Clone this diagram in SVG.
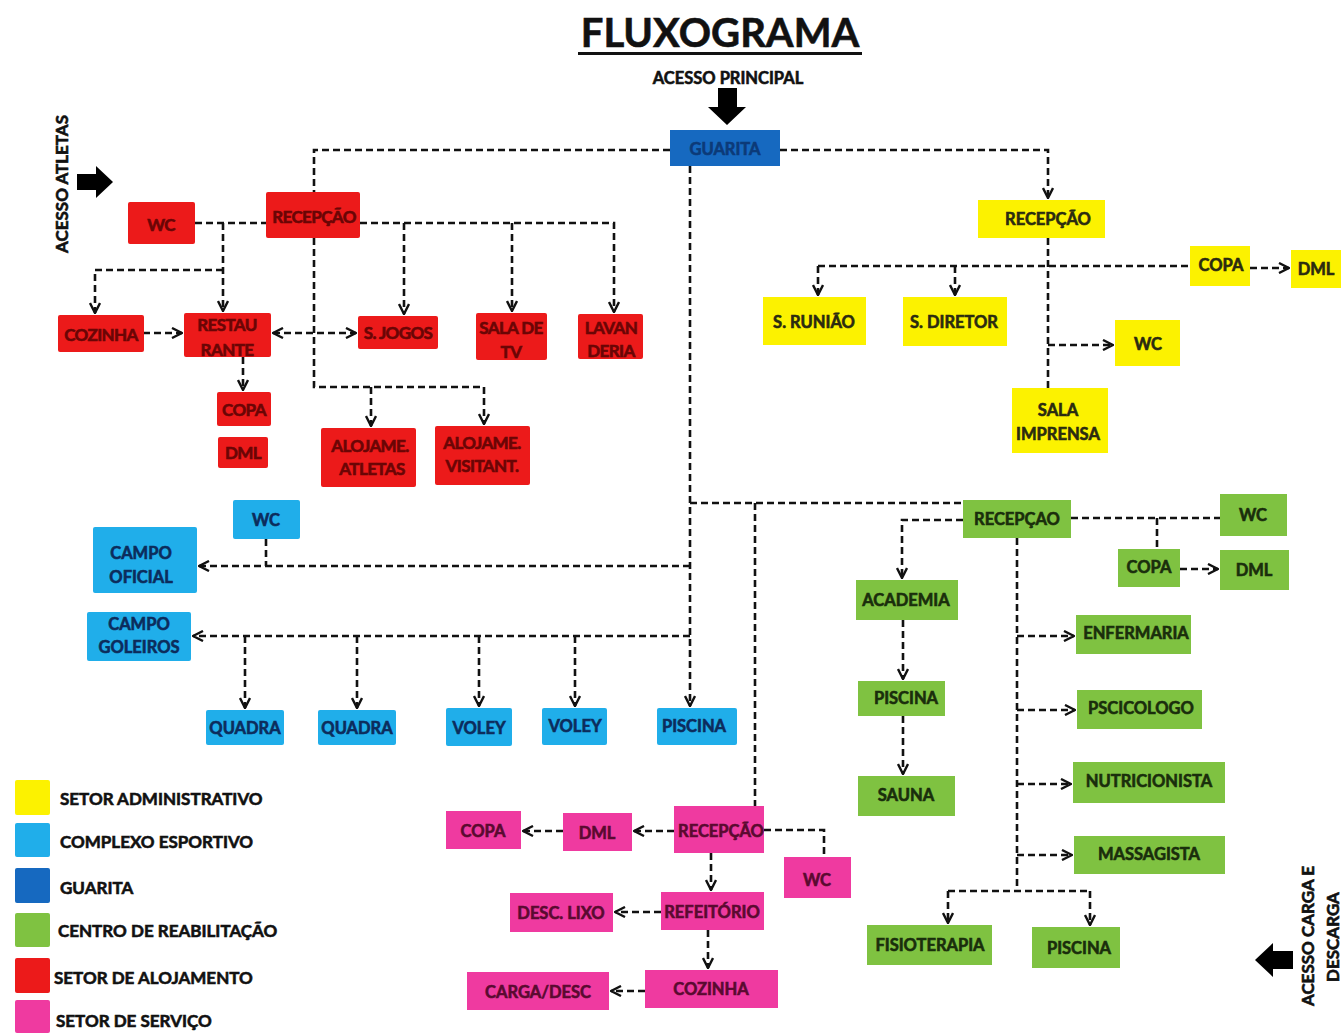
<svg xmlns="http://www.w3.org/2000/svg" width="1341" height="1033" viewBox="0 0 1341 1033">
<style>
text{font-family:Lato,"Open Sans","Liberation Sans",sans-serif;font-weight:bold;text-anchor:middle;dominant-baseline:central;stroke-width:0.6px}
.n{font-size:16.5px}
.red rect{fill:#ec1a1a}.red text{fill:#6a0505;stroke:#6a0505;font-size:17px;letter-spacing:-0.6px}
.yel rect{fill:#fcf200}.yel text{fill:#2b2b10;stroke:#2b2b10}
.sky rect{fill:#20aeea}.sky text{fill:#0c2c5c;stroke:#0c2c5c}
.blu rect{fill:#1669c0}.blu text{fill:#0c3a78;stroke:#0c3a78}
.grn rect{fill:#7fc241}.grn text{fill:#1a2e0c;stroke:#1a2e0c}
.pnk rect{fill:#ef3aa0}.pnk text{fill:#5a0a30;stroke:#5a0a30}
.k{fill:#111;stroke:#111}
.c path{fill:none;stroke:#111;stroke-width:2.6;stroke-dasharray:7 4}
.a{marker-end:url(#ah)}
.leg text{text-anchor:start;font-size:17px}
</style>
<defs>
<marker id="ah" viewBox="0 0 12 12" refX="11" refY="6" markerWidth="12" markerHeight="12" markerUnits="userSpaceOnUse" orient="auto-start-reverse">
<path d="M1,1 L11,6 L1,11" fill="none" stroke="#111" stroke-width="2.4"/>
</marker>
</defs>
<rect width="1341" height="1033" fill="#fff"/>

<g id="title">
<text class="k" x="720" y="32" style="font-size:40px">FLUXOGRAMA</text>
<rect x="578" y="52" width="284" height="3" fill="#111"/>
<text class="k" x="728" y="78" style="font-size:16.5px">ACESSO PRINCIPAL</text>
<polygon points="718,88 737,88 737,107 746,107 727,125 708,107 718,107" fill="#000"/>
</g>

<g id="acesso-atletas">
<text class="k" transform="translate(61,184) rotate(-90)" style="font-size:17px">ACESSO ATLETAS</text>
<polygon points="77,174 96,174 96,166 113,182 96,198 96,190 77,190" fill="#000"/>
</g>

<g id="acesso-carga">
<text class="k" transform="translate(1307,936) rotate(-90)" style="font-size:17px">ACESSO CARGA E</text>
<text class="k" transform="translate(1332,937) rotate(-90)" style="font-size:17px">DESCARGA</text>
<polygon points="1293,951 1273,951 1273,943 1255,960 1273,977 1273,969 1293,969" fill="#000"/>
</g>

<g class="c" id="connectors">
<path d="M670,150 H314 V192"/>
<path class="a" d="M780,150 H1048 V198"/>
<path class="a" d="M690,166 V706"/>
<path d="M690,503 H963"/>
<path d="M755,503 V806"/>
<path class="a" d="M690,566 H199"/>
<path d="M266,539 V566"/>
<path class="a" d="M690,636 H193"/>
<path class="a" d="M245,636 V708"/>
<path class="a" d="M357,636 V708"/>
<path class="a" d="M479,636 V706"/>
<path class="a" d="M575,636 V706"/>

<path d="M195,223 H266"/>
<path class="a" d="M223,223 V311"/>
<path class="a" d="M223,270 H95 V313"/>
<path class="a" d="M143,333 H182"/>
<path class="a" d="M273,333 H356" style="marker-start:url(#ah)"/>
<path class="a" d="M314,238 V387 H484 V424"/>
<path class="a" d="M371,387 V426"/>
<path class="a" d="M360,223 H614 V312"/>
<path class="a" d="M404,223 V314"/>
<path class="a" d="M512,223 V311"/>
<path class="a" d="M243,357 V390"/>

<path d="M1048,238 V388"/>
<path d="M818,266 H1190"/>
<path class="a" d="M818,266 V295"/>
<path class="a" d="M955,266 V295"/>
<path class="a" d="M1250,268 H1289"/>
<path class="a" d="M1048,345 H1113"/>

<path class="a" d="M963,520 H902 V578"/>
<path class="a" d="M903,620 V679"/>
<path class="a" d="M903,716 V774"/>
<path d="M1071,518 H1220"/>
<path d="M1157,518 V549"/>
<path class="a" d="M1180,569 H1218"/>
<path d="M1017,538 V891"/>
<path class="a" d="M1017,636 H1074"/>
<path class="a" d="M1017,710 H1075"/>
<path class="a" d="M1017,784 H1071"/>
<path class="a" d="M1017,855 H1072"/>
<path d="M948,891 H1090"/>
<path class="a" d="M948,891 V923"/>
<path class="a" d="M1090,891 V925"/>

<path class="a" d="M674,831 H634"/>
<path class="a" d="M563,831 H523"/>
<path d="M764,830 H824 V857"/>
<path class="a" d="M711,853 V890"/>
<path class="a" d="M661,912 H615"/>
<path class="a" d="M708,930 V968"/>
<path class="a" d="M645,991 H611"/>
</g>

<g id="guarita" class="blu n"><rect x="670" y="130" width="110" height="36"/><text x="725" y="149">GUARITA</text></g>

<g id="r-recepcao" class="red n"><rect x="266" y="192" width="94" height="46" rx="2"/><text x="314" y="216">RECEPÇÃO</text></g>
<g id="r-wc" class="red n"><rect x="128" y="202" width="67" height="42" rx="2"/><text x="161" y="224">WC</text></g>
<g id="r-cozinha" class="red n"><rect x="58" y="315" width="86" height="37" rx="2"/><text x="101" y="334">COZINHA</text></g>
<g id="r-restaurante" class="red n"><rect x="184" y="313" width="87" height="44" rx="2"/><text x="227" y="324">RESTAU</text><text x="227" y="349">RANTE</text></g>
<g id="r-sjogos" class="red n"><rect x="358" y="316" width="80" height="33" rx="2"/><text x="398" y="332">S. JOGOS</text></g>
<g id="r-salatv" class="red n"><rect x="476" y="313" width="71" height="47" rx="2"/><text x="511" y="327">SALA DE</text><text x="511" y="351">TV</text></g>
<g id="r-lavanderia" class="red n"><rect x="578" y="314" width="65" height="45" rx="2"/><text x="611" y="327">LAVAN</text><text x="611" y="350">DERIA</text></g>
<g id="r-copa" class="red n"><rect x="217" y="392" width="54" height="34" rx="2"/><text x="244" y="409">COPA</text></g>
<g id="r-dml" class="red n"><rect x="218" y="437" width="50" height="31" rx="2"/><text x="243" y="452">DML</text></g>
<g id="r-aloj-atletas" class="red n"><rect x="321" y="428" width="95" height="59" rx="2"/><text x="370" y="445">ALOJAME.</text><text x="372" y="468">ATLETAS</text></g>
<g id="r-aloj-visit" class="red n"><rect x="435" y="426" width="95" height="59" rx="2"/><text x="482" y="442">ALOJAME.</text><text x="482" y="465">VISITANT.</text></g>

<g id="y-recepcao" class="yel n"><rect x="978" y="200" width="127" height="38"/><text x="1048" y="219">RECEPÇÃO</text></g>
<g id="y-sreuniao" class="yel n"><rect x="763" y="297" width="103" height="48"/><text x="814" y="322">S. RUNIÃO</text></g>
<g id="y-sdiretor" class="yel n"><rect x="903" y="297" width="104" height="49"/><text x="954" y="322">S. DIRETOR</text></g>
<g id="y-copa" class="yel n"><rect x="1190" y="246" width="60" height="40"/><text x="1221" y="265">COPA</text></g>
<g id="y-dml" class="yel n"><rect x="1291" y="250" width="50" height="38"/><text x="1316" y="269">DML</text></g>
<g id="y-wc" class="yel n"><rect x="1115" y="320" width="65" height="46"/><text x="1148" y="344">WC</text></g>
<g id="y-imprensa" class="yel n"><rect x="1012" y="388" width="96" height="65"/><text x="1058" y="410">SALA</text><text x="1058" y="434">IMPRENSA</text></g>

<g id="b-wc" class="sky n"><rect x="233" y="500" width="67" height="39" rx="2"/><text x="266" y="520">WC</text></g>
<g id="b-campo-oficial" class="sky n"><rect x="93" y="527" width="104" height="66" rx="2"/><text x="141" y="553">CAMPO</text><text x="141" y="577">OFICIAL</text></g>
<g id="b-campo-goleiros" class="sky n"><rect x="87" y="612" width="104" height="49" rx="2"/><text x="139" y="624">CAMPO</text><text x="139" y="647">GOLEIROS</text></g>
<g id="b-quadra1" class="sky n"><rect x="206" y="710" width="78" height="35" rx="2"/><text x="245" y="728">QUADRA</text></g>
<g id="b-quadra2" class="sky n"><rect x="318" y="710" width="78" height="35" rx="2"/><text x="357" y="728">QUADRA</text></g>
<g id="b-voley1" class="sky n"><rect x="446" y="708" width="66" height="38" rx="2"/><text x="479" y="728">VOLEY</text></g>
<g id="b-voley2" class="sky n"><rect x="542" y="708" width="65" height="37" rx="2"/><text x="575" y="726">VOLEY</text></g>
<g id="b-piscina" class="sky n"><rect x="657" y="708" width="80" height="37" rx="2"/><text x="694" y="726">PISCINA</text></g>

<g id="g-recepcao" class="grn n"><rect x="963" y="500" width="108" height="38"/><text x="1017" y="519">RECEPÇAO</text></g>
<g id="g-wc" class="grn n"><rect x="1220" y="494" width="67" height="42"/><text x="1253" y="515">WC</text></g>
<g id="g-copa" class="grn n"><rect x="1118" y="549" width="62" height="38"/><text x="1149" y="567">COPA</text></g>
<g id="g-dml" class="grn n"><rect x="1220" y="550" width="69" height="40"/><text x="1254" y="570">DML</text></g>
<g id="g-academia" class="grn n"><rect x="856" y="580" width="102" height="40"/><text x="906" y="600">ACADEMIA</text></g>
<g id="g-piscina" class="grn n"><rect x="858" y="681" width="87" height="35"/><text x="906" y="698">PISCINA</text></g>
<g id="g-sauna" class="grn n"><rect x="858" y="776" width="97" height="40"/><text x="906" y="795">SAUNA</text></g>
<g id="g-enfermaria" class="grn n"><rect x="1076" y="615" width="115" height="39"/><text x="1136" y="633">ENFERMARIA</text></g>
<g id="g-psicologo" class="grn n"><rect x="1077" y="690" width="125" height="39"/><text x="1141" y="708">PSCICOLOGO</text></g>
<g id="g-nutricionista" class="grn n"><rect x="1073" y="762" width="152" height="41"/><text x="1149" y="781">NUTRICIONISTA</text></g>
<g id="g-massagista" class="grn n"><rect x="1074" y="836" width="151" height="38"/><text x="1149" y="854">MASSAGISTA</text></g>
<g id="g-fisioterapia" class="grn n"><rect x="867" y="925" width="125" height="40"/><text x="930" y="945">FISIOTERAPIA</text></g>
<g id="g-piscina2" class="grn n"><rect x="1032" y="927" width="88" height="41"/><text x="1079" y="948">PISCINA</text></g>

<g id="p-recepcao" class="pnk n"><rect x="674" y="806" width="90" height="47"/><text x="721" y="831">RECEPÇÃO</text></g>
<g id="p-dml" class="pnk n"><rect x="563" y="813" width="69" height="38"/><text x="597" y="833">DML</text></g>
<g id="p-copa" class="pnk n"><rect x="446" y="811" width="75" height="38"/><text x="483" y="831">COPA</text></g>
<g id="p-wc" class="pnk n"><rect x="784" y="857" width="67" height="41"/><text x="817" y="880">WC</text></g>
<g id="p-refeitorio" class="pnk n"><rect x="661" y="892" width="103" height="38"/><text x="712" y="912">REFEITÓRIO</text></g>
<g id="p-desclixo" class="pnk n"><rect x="510" y="893" width="103" height="39"/><text x="561" y="913">DESC. LIXO</text></g>
<g id="p-cozinha" class="pnk n"><rect x="645" y="970" width="133" height="38"/><text x="711" y="989">COZINHA</text></g>
<g id="p-carga" class="pnk n"><rect x="467" y="972" width="142" height="38"/><text x="538" y="992">CARGA/DESC</text></g>

<g id="legend" class="leg">
<rect x="15" y="780" width="35" height="35" fill="#fcf200" rx="2"/><text class="k" x="60" y="798">SETOR ADMINISTRATIVO</text>
<rect x="15" y="823" width="35" height="34" fill="#20aeea" rx="2"/><text class="k" x="60" y="841">COMPLEXO ESPORTIVO</text>
<rect x="15" y="868" width="35" height="35" fill="#1669c0" rx="2"/><text class="k" x="60" y="887">GUARITA</text>
<rect x="15" y="913" width="35" height="34" fill="#7fc241" rx="2"/><text class="k" x="58" y="930">CENTRO DE REABILITAÇÃO</text>
<rect x="15" y="958" width="35" height="35" fill="#ec1a1a" rx="2"/><text class="k" x="54" y="977">SETOR DE ALOJAMENTO</text>
<rect x="15" y="1000" width="35" height="33" fill="#ef3aa0" rx="2"/><text class="k" x="56" y="1020">SETOR DE SERVIÇO</text>
</g>
</svg>
